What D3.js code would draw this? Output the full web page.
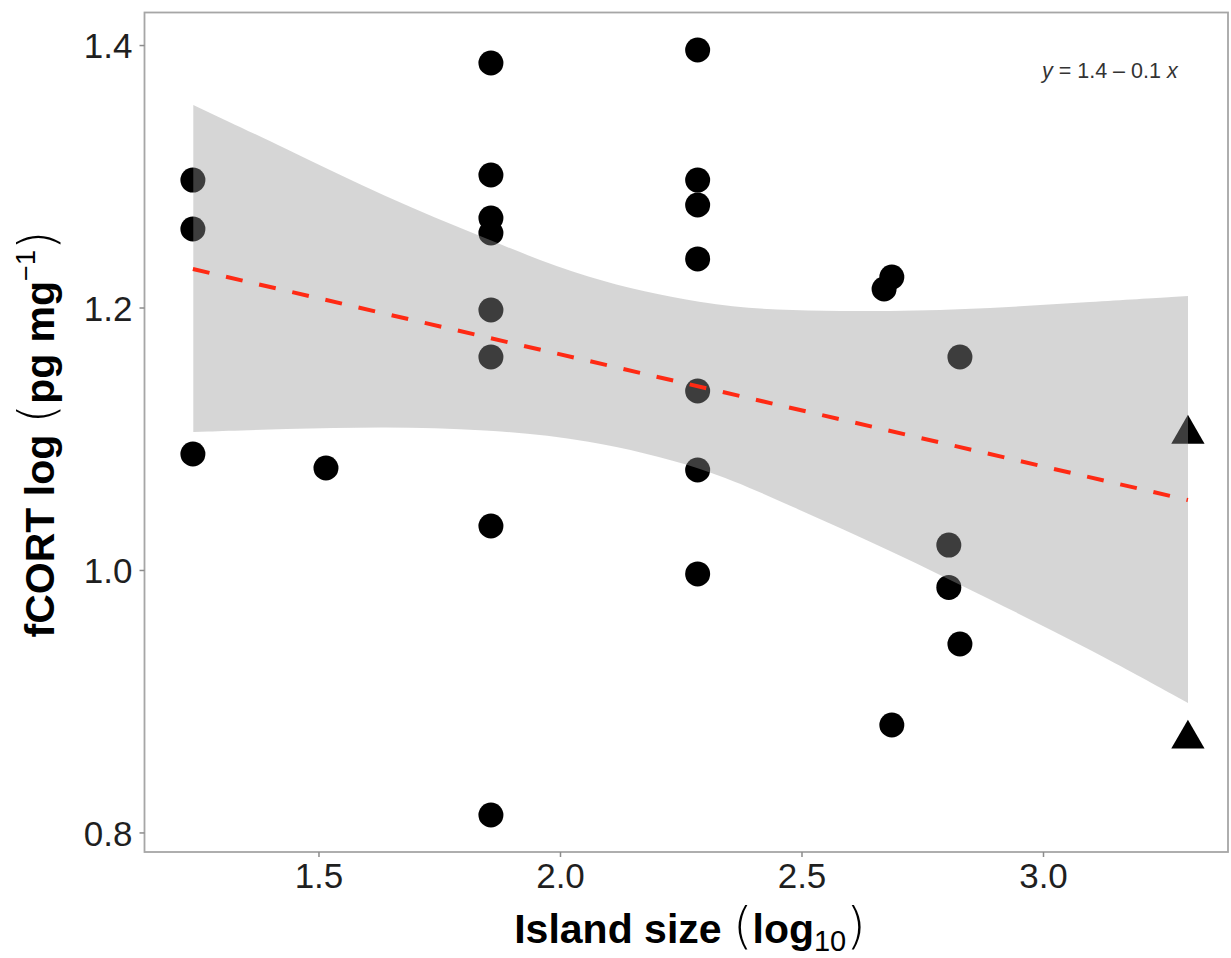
<!DOCTYPE html>
<html>
<head>
<meta charset="utf-8">
<script src="https://cdn.jsdelivr.net/npm/d3@7"></script>
<style>
  body { margin: 0; background: #fff; }
  text { font-family: "Liberation Sans", Arial, sans-serif; }
  .paren { font-family: "DejaVu Sans", "Liberation Sans", sans-serif; font-weight: 200; }
</style>
</head>
<body>
<div id="chart"></div>
<script>
/* island size (log10) and fCORT values */
var circleX = [1.240, 1.240, 1.240, 1.5155,
               1.857, 1.857, 1.857, 1.857, 1.857, 1.857, 1.857, 1.857,
               2.285, 2.285, 2.285, 2.285, 2.285, 2.285, 2.285,
               2.671, 2.687, 2.687, 2.805, 2.805, 2.828, 2.828];
var circleY = [1.2971, 1.2598, 1.0884, 1.0777,
               1.3863, 1.3010, 1.2682, 1.2568, 1.1981, 1.1623, 1.0335, 0.8133,
               1.3962, 1.2971, 1.2781, 1.2370, 1.1364, 1.0762, 0.9970,
               1.2141, 1.2232, 0.8819, 1.0190, 0.9867, 1.1623, 0.9436];
var triangleX = [3.300, 3.300];
var triangleY = [1.1051, 0.8728];

/* fitted line and its confidence band */
var fitX = [1.240, 3.300];
var fitY = [1.2293, 1.0533];
var bandX     = [1.2408, 1.4306, 1.6377, 1.8447, 2.0518, 2.3002, 2.4762, 2.6832, 2.8903, 3.0973, 3.3002];
var bandLower = [1.1051, 1.1074, 1.1093, 1.1071, 1.1002, 1.0785, 1.0488, 1.0152, 0.9775, 0.9398, 0.8987];
var bandUpper = [1.3543, 1.3215, 1.2842, 1.2530, 1.2217, 1.2019, 1.1973, 1.1970, 1.1992, 1.2042, 1.2088];

var xTicks = [1.5, 2.0, 2.5, 3.0];
var yTicks = [0.8, 1.0, 1.2, 1.4];

var width = 1231, height = 958;
var panel = { left: 144.5, right: 1228, top: 12.5, bottom: 852 };

var svg = d3.select("#chart").append("svg")
    .attr("width", width)
    .attr("height", height);

var x = d3.scaleLinear().domain([1.1398, 3.383]).range([panel.left, panel.right]);
var y = d3.scaleLinear().domain([0.7851, 1.4248]).range([panel.bottom, panel.top]);

/* points first, the band is laid over them */
var circles = circleX.map(function (d, i) { return { x: d, y: circleY[i] }; });
var triangles = triangleX.map(function (d, i) { return { x: d, y: triangleY[i] }; });

svg.append("g").selectAll("circle")
    .data(circles)
    .enter().append("circle")
    .attr("cx", function (d) { return x(d.x); })
    .attr("cy", function (d) { return y(d.y); })
    .attr("r", 12.5)
    .attr("fill", "#000");

var tri = d3.symbol().type(d3.symbolTriangle).size(480);
svg.append("g").selectAll("path")
    .data(triangles)
    .enter().append("path")
    .attr("d", tri)
    .attr("transform", function (d) { return "translate(" + x(d.x) + "," + (y(d.y) + 2) + ")"; })
    .attr("fill", "#000");

var band = bandX.map(function (d, i) { return { x: d, lo: bandLower[i], hi: bandUpper[i] }; });
var area = d3.area()
    .x(function (d) { return x(d.x); })
    .y0(function (d) { return y(d.lo); })
    .y1(function (d) { return y(d.hi); })
    .curve(d3.curveBasis);

svg.append("path")
    .datum(band)
    .attr("d", area)
    .attr("fill", "#999999")
    .attr("fill-opacity", 0.4);

/* dashed regression line */
var fit = fitX.map(function (d, i) { return { x: d, y: fitY[i] }; });
svg.append("path")
    .datum(fit)
    .attr("d", d3.line().x(function (d) { return x(d.x); }).y(function (d) { return y(d.y); }))
    .attr("fill", "none")
    .attr("stroke", "#ff2a14")
    .attr("stroke-width", 4)
    .attr("stroke-dasharray", "17,17");

/* panel border */
svg.append("rect")
    .attr("x", panel.left)
    .attr("y", panel.top)
    .attr("width", panel.right - panel.left)
    .attr("height", panel.bottom - panel.top)
    .attr("fill", "none")
    .attr("stroke", "#a6a6a6")
    .attr("stroke-width", 1.8);

/* axes */
var xAxis = svg.append("g")
    .attr("transform", "translate(0," + panel.bottom + ")")
    .call(d3.axisBottom(x).tickValues(xTicks).tickFormat(d3.format(".1f")).tickSize(5).tickPadding(6));
var yAxis = svg.append("g")
    .attr("transform", "translate(" + panel.left + ",0)")
    .call(d3.axisLeft(y).tickValues(yTicks).tickFormat(d3.format(".1f")).tickSize(5).tickPadding(7));

[xAxis, yAxis].forEach(function (a) {
    a.select(".domain").remove();
    a.selectAll(".tick line").attr("stroke", "#8c8c8c").attr("stroke-width", 1.5);
    a.selectAll(".tick text")
        .attr("fill", "#1f1f1f")
        .style("font-size", "35px")
        .style("font-family", "'Liberation Sans', Arial, sans-serif");
});
yAxis.selectAll(".tick text").attr("dy", "0.36em");

/* axis titles */
var xt = svg.append("text")
    .attr("x", 690)
    .attr("y", 943)
    .attr("text-anchor", "middle")
    .attr("fill", "#000");
xt.append("tspan").attr("font-weight", "bold").attr("font-size", 41).text("Island size ");
xt.append("tspan").attr("class", "paren").attr("font-size", 50).text("(");
xt.append("tspan").attr("font-weight", "bold").attr("font-size", 41).text("log");
xt.append("tspan").attr("font-size", 29).attr("dy", 8).text("10");
xt.append("tspan").attr("class", "paren").attr("font-size", 50).attr("dy", -8).text(")");

var yt = svg.append("text")
    .attr("transform", "translate(54,434) rotate(-90)")
    .attr("text-anchor", "middle")
    .attr("fill", "#000");
yt.append("tspan").attr("font-weight", "bold").attr("font-size", 41).text("fCORT log ");
yt.append("tspan").attr("class", "paren").attr("font-size", 50).text("(");
yt.append("tspan").attr("font-weight", "bold").attr("font-size", 41).text("pg mg");
yt.append("tspan").attr("font-size", 27).attr("dy", -19).text("\u22121");
yt.append("tspan").attr("class", "paren").attr("font-size", 50).attr("dy", 19).text(")");

/* equation label */
var eq = svg.append("text")
    .attr("x", 1042)
    .attr("y", 78)
    .attr("font-size", 21.5)
    .attr("fill", "#333");
eq.append("tspan").attr("font-style", "italic").text("y");
eq.append("tspan").text(" = 1.4 \u2013 0.1 ");
eq.append("tspan").attr("font-style", "italic").text("x");
</script>
</body>
</html>
